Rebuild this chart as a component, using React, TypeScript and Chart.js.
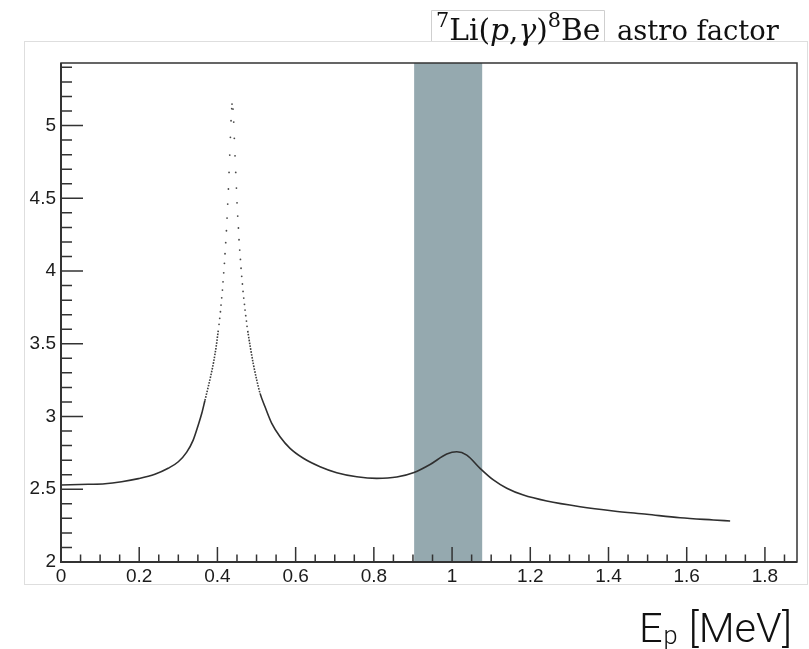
import React, { useEffect, useRef } from "react";
import { Chart, registerables } from "chart.js";

Chart.register(...registerables);

// ---------- data ----------
const leftCurveX = [0, 0.07, 0.1125, 0.155, 0.198, 0.24, 0.274, 0.3, 0.3215, 0.338, 0.351, 0.36, 0.368, 0.377, 0.3834, 0.3903, 0.3972, 0.4023];
const leftCurveY = [2.529, 2.534, 2.538, 2.552, 2.573, 2.603, 2.644, 2.689, 2.755, 2.838, 2.942, 3.022, 3.11, 3.21, 3.285, 3.375, 3.489, 3.595];

const peakDotX = [
  0.4041, 0.4059, 0.4077, 0.4092, 0.411, 0.4128, 0.4143, 0.4161, 0.4179, 0.4194, 0.4212, 0.423, 0.4246, 0.4263, 0.4281, 0.4297, 0.4315, 0.4332, 0.4348, 0.4366,
  0.4373,
  0.4399, 0.4417, 0.4432, 0.445, 0.4468, 0.4486, 0.4501, 0.4519, 0.4537, 0.4552, 0.457, 0.4588, 0.4604, 0.4621, 0.4639, 0.4655, 0.4673, 0.4691, 0.4706, 0.4724, 0.4742, 0.4757,
];
const peakDotY = [
  3.634, 3.675, 3.72, 3.766, 3.816, 3.869, 3.926, 3.988, 4.053, 4.119, 4.195, 4.277, 4.364, 4.46, 4.564, 4.678, 4.797, 4.919, 5.033, 5.116,
  5.148,
  5.113, 5.024, 4.912, 4.792, 4.678, 4.57, 4.469, 4.378, 4.296, 4.215, 4.144, 4.08, 4.019, 3.964, 3.911, 3.86, 3.814, 3.771, 3.732, 3.693, 3.656, 3.62,
];

const rightCurveX = [0.4775, 0.4844, 0.4918, 0.5005, 0.509, 0.5217, 0.5389, 0.5601, 0.5857, 0.6197, 0.6624, 0.7051, 0.7563, 0.8074, 0.8586, 0.9028, 0.9437, 0.9864, 1.012, 1.0376, 1.0716, 1.1056, 1.1399, 1.1824, 1.2422, 1.3274, 1.4125, 1.498, 1.5831, 1.6683, 1.711];
const rightCurveY = [3.588, 3.472, 3.361, 3.251, 3.159, 3.067, 2.953, 2.861, 2.781, 2.713, 2.655, 2.614, 2.586, 2.575, 2.584, 2.615, 2.67, 2.742, 2.758, 2.735, 2.644, 2.564, 2.507, 2.46, 2.419, 2.38, 2.351, 2.328, 2.304, 2.289, 2.282];

const bandRange = [0.903, 1.077];

const xTickValues = [0, 0.2, 0.4, 0.6, 0.8, 1.0, 1.2, 1.4, 1.6, 1.8];
const xTickLabels = ["0", "0.2", "0.4", "0.6", "0.8", "1", "1.2", "1.4", "1.6", "1.8"];
const yTickValues = [2, 2.5, 3, 3.5, 4, 4.5, 5];
const yTickLabels = ["2", "2.5", "3", "3.5", "4", "4.5", "5"];

const xRange = [0, 1.882];
const yRange = [2, 5.43];
const xMinorStep = 0.05;
const yMinorStep = 0.1;
const dottedAbove = 3.1;

const titleMath = [
  { t: "7", kind: "sup" },
  { t: "Li(", kind: "n" },
  { t: "p", kind: "i" },
  { t: ",", kind: "n" },
  { t: "γ", kind: "i" },
  { t: ")", kind: "n" },
  { t: "8", kind: "sup" },
  { t: "Be", kind: "n" },
];
const titleRest = "astro factor";
const xAxisTitle = { main: "E", sub: "p", rest: " [MeV]" };

// ---------- styles ----------
const AXIS_COLOR = "#333333";
const LABEL_COLOR = "#1c1c1c";
const BAND_COLOR = "#95a9af";
const CURVE_COLOR = "#2f2f2f";

const toPts = (xs: number[], ys: number[]) => xs.map((x, i) => ({ x, y: ys[i] }));

function serifFont(kind: string, size: number) {
  const style = kind === "i" ? "italic " : "";
  return `${style}${size}px "DejaVu Serif", "Liberation Serif", serif`;
}

const decorPlugin = {
  id: "decor",
  beforeDatasetsDraw(chart: any) {
    const { ctx, chartArea, scales } = chart;
    const x0 = scales.x.getPixelForValue(bandRange[0]);
    const x1 = scales.x.getPixelForValue(bandRange[1]);
    ctx.save();
    ctx.fillStyle = BAND_COLOR;
    ctx.fillRect(x0, chartArea.top, x1 - x0, chartArea.bottom - chartArea.top);
    ctx.restore();
  },
  afterDraw(chart: any) {
    const { ctx, chartArea, scales } = chart;
    const { left, right, top, bottom } = chartArea;
    const xs = scales.x;
    const ys = scales.y;
    ctx.save();

    // outer light pad box
    ctx.strokeStyle = "#dedede";
    ctx.lineWidth = 1;
    ctx.strokeRect(24.5, 41.5, 783, 543);

    // frame
    ctx.strokeStyle = AXIS_COLOR;
    ctx.lineWidth = 1.5;
    ctx.strokeRect(left, top, right - left, bottom - top);
    ctx.lineWidth = 2;
    ctx.beginPath();
    ctx.moveTo(left, top);
    ctx.lineTo(left, bottom);
    ctx.lineTo(right, bottom);
    ctx.stroke();

    // ticks
    ctx.lineWidth = 1.5;
    ctx.beginPath();
    const nx = Math.round((xRange[1] - xRange[0]) / xMinorStep);
    for (let i = 0; i <= nx; i++) {
      const v = xRange[0] + i * xMinorStep;
      if (v > xRange[1] + 1e-9) break;
      const px = xs.getPixelForValue(v);
      const major = i % 4 === 0;
      ctx.moveTo(px, bottom);
      ctx.lineTo(px, bottom - (major ? 15 : 7.5));
    }
    const ny = Math.round((yRange[1] - yRange[0]) / yMinorStep);
    for (let i = 0; i <= ny; i++) {
      const v = yRange[0] + i * yMinorStep;
      if (v > yRange[1] + 1e-9) break;
      const py = ys.getPixelForValue(v);
      const major = i % 5 === 0;
      ctx.moveTo(left, py);
      ctx.lineTo(left + (major ? 22 : 11), py);
    }
    ctx.stroke();

    // title (math part with box, then text)
    const baseSize = 27;
    let w = 0;
    for (const p of titleMath) {
      const s = p.kind === "sup" ? baseSize * 0.7 : baseSize;
      ctx.font = serifFont(p.kind, s);
      w += ctx.measureText(p.t).width;
    }
    const mathScale = 165 / w;
    const S = baseSize * Math.min(1.1, Math.max(0.85, mathScale));
    const baseline = 39.5;
    let cx = 436;
    ctx.fillStyle = "#111";
    ctx.textBaseline = "alphabetic";
    ctx.textAlign = "left";
    for (const p of titleMath) {
      const s = p.kind === "sup" ? S * 0.7 : S;
      ctx.font = serifFont(p.kind, s);
      const dy = p.kind === "sup" ? -S * 0.42 : 0;
      ctx.fillText(p.t, cx, baseline + dy);
      cx += ctx.measureText(p.t).width;
    }
    ctx.strokeStyle = "#cfcfcf";
    ctx.lineWidth = 1;
    ctx.beginPath();
    ctx.moveTo(431.5, 41);
    ctx.lineTo(431.5, 10.5);
    ctx.lineTo(604.5, 10.5);
    ctx.lineTo(604.5, 41);
    ctx.stroke();

    ctx.font = serifFont("n", 27);
    const rw = ctx.measureText(titleRest).width;
    const rs = 27 * Math.min(1.15, Math.max(0.85, 162 / rw));
    ctx.font = serifFont("n", rs);
    ctx.fillText(titleRest, 617, baseline);

    // x axis title
    const lf = (s: number) => `300 ${s}px Roboto, "Liberation Sans", Arial, sans-serif`;
    const big = 41;
    const small = 25;
    ctx.fillStyle = "#111";
    ctx.font = lf(big);
    let tw = ctx.measureText(xAxisTitle.main).width + ctx.measureText(xAxisTitle.rest).width;
    ctx.font = lf(small);
    tw += ctx.measureText(xAxisTitle.sub).width + 2;
    const k = Math.min(1.15, Math.max(0.85, 153 / tw));
    let ax = 639;
    const ab = 641.5;
    ctx.font = lf(big * k);
    ctx.fillText(xAxisTitle.main, ax, ab);
    ax += ctx.measureText(xAxisTitle.main).width + 1;
    ctx.font = lf(small * k);
    ctx.fillText(xAxisTitle.sub, ax, ab + 2);
    ax += ctx.measureText(xAxisTitle.sub).width + 1;
    ctx.font = lf(big * k);
    ctx.fillText(xAxisTitle.rest, ax, ab);

    ctx.restore();
  },
};

export default function App() {
  const ref = useRef<HTMLCanvasElement | null>(null);

  useEffect(() => {
    if (!ref.current) return;
    const steep = (c: any) => c.p0.parsed.y > dottedAbove && c.p1.parsed.y > dottedAbove;
    const lineDs = (label: string, xs: number[], ys: number[]) => ({
      label,
      data: toPts(xs, ys),
      showLine: true,
      borderColor: CURVE_COLOR,
      borderWidth: 1.6,
      pointRadius: 0,
      fill: false,
      cubicInterpolationMode: "monotone" as const,
      segment: {
        borderDash: (c: any) => (steep(c) ? [1.6, 1.3] : undefined),
        borderColor: (c: any) => (steep(c) ? "#3c3c3c" : undefined),
      },
    });
    const chart = new Chart(ref.current, {
      type: "scatter",
      data: {
        datasets: [
          lineDs("left", leftCurveX, leftCurveY),
          {
            label: "peak",
            data: toPts(peakDotX, peakDotY),
            showLine: false,
            pointRadius: 0.9,
            pointBackgroundColor: "#4a4a4a",
            pointBorderWidth: 0,
            borderWidth: 0,
          },
          lineDs("right", rightCurveX, rightCurveY),
        ],
      },
      options: {
        responsive: false,
        animation: false,
        devicePixelRatio: 1,
        layout: { padding: { left: 0, top: 63, right: 12, bottom: 0 } },
        plugins: { legend: { display: false }, tooltip: { enabled: false }, title: { display: false } },
        scales: {
          x: {
            type: "linear",
            min: xRange[0],
            max: xRange[1],
            grid: { display: false, drawTicks: false },
            border: { display: false },
            afterBuildTicks: (s: any) => {
              s.ticks = xTickValues.map((v) => ({ value: v }));
            },
            afterFit: (s: any) => {
              s.height = 87;
            },
            ticks: {
              padding: 3,
              color: LABEL_COLOR,
              font: { family: '"Liberation Sans", Arial, Helvetica, sans-serif', size: 19 },
              maxRotation: 0,
              autoSkip: false,
              callback: (_v: any, i: number) => xTickLabels[i],
            },
          },
          y: {
            type: "linear",
            min: yRange[0],
            max: yRange[1],
            grid: { display: false, drawTicks: false },
            border: { display: false },
            afterBuildTicks: (s: any) => {
              s.ticks = yTickValues.map((v) => ({ value: v }));
            },
            afterFit: (s: any) => {
              s.width = 61;
            },
            ticks: {
              padding: 5,
              color: LABEL_COLOR,
              font: { family: '"Liberation Sans", Arial, Helvetica, sans-serif', size: 19 },
              autoSkip: false,
              callback: (_v: any, i: number) => yTickLabels[i],
            },
          },
        },
      },
      plugins: [decorPlugin],
    });
    return () => chart.destroy();
  }, []);

  return (
    <div style={{ position: "absolute", left: 0, top: 0, width: 809, height: 649, background: "#fff" }}>
      <canvas ref={ref} width={809} height={649} style={{ width: 809, height: 649, display: "block" }} />
    </div>
  );
}
